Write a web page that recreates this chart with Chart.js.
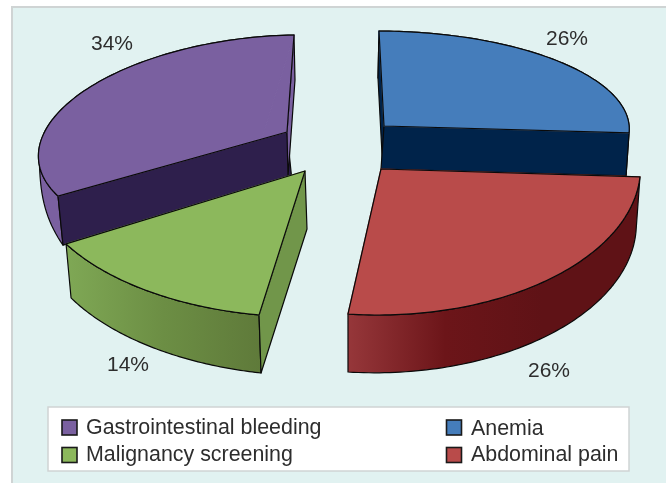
<!DOCTYPE html>
<html>
<head>
<meta charset="utf-8">
<style>
  html, body { margin: 0; padding: 0; background: #fff; }
  canvas { display: block; }
</style>
<script src="https://cdn.jsdelivr.net/npm/chart.js@4"></script>
</head>
<body>
<canvas id="chart" width="666" height="483"></canvas>
<script>
const categories = ["Anemia", "Abdominal pain", "Malignancy screening", "Gastrointestinal bleeding"];
const shares = [26, 26, 14, 34];
const topColors = ["#457dbb", "#b94b4a", "#8cb85c", "#7a60a0"];

// each exploded wedge has its own projection: the unit circle goes to
// centre + cos*xAxis + sin*yAxis, the tip of the wedge sits at centre + tip
const views = [
  { centre: [384, 126], xAxis: [245.2, 1], yAxis: [5, 95], tip: [0, 0], depthStart: [-1, 47], depthEnd: [-3, 43],
    walls: ["start", "end"], cutColor: "#00234a", cutColorStart: "#00234a", rim: ["#00234a", "#00234a"], label: [567, 39] },
  { centre: [381, 169], xAxis: [259.5, -1.2], yAxis: [-0.5, 146], tip: [0, 0], depthStart: [-4, 55], depthEnd: [0, 58],
    walls: [], rim: ["#5f1216", "#5f1216", "#6c1519", "#96373a"], label: [549, 371] },
  { centre: [305, 171], xAxis: [275.7, 6.2], yAxis: [-11.5, 145.9], tip: [0, 0], depthStart: [2, 58], depthEnd: [5, 54],
    walls: ["start"], cutColorStart: "#71964a", rim: ["#5f7a3a", "#6c8e44", "#7fa855"], label: [128, 365] },
  { centre: [262, 138], xAxis: [221.3, -3.4], yAxis: [-32, 103], tip: [25, -6], depthStart: [5, 49], depthEnd: [1, 45],
    walls: ["start", "end"], cutColorStart: "#2e1f4c", cutColor: "#7a60a0", rim: ["#7a60a0", "#7a60a0"], rimFade: 0.22, label: [112, 44] }
];
const drawOrder = [3, 2, 0, 1];

const legendItems = [
  { index: 3, box: [62, 420], text: [86, 434] },
  { index: 2, box: [62, 447.5], text: [86, 461] },
  { index: 0, box: [446.5, 420], text: [471, 435] },
  { index: 1, box: [446.5, 447.5], text: [471, 461] }
];

const textColor = "#2d2d2d";
const font = "Arial, 'Liberation Sans', sans-serif";

function rimPoint(view, angle) {
  return [
    view.centre[0] + Math.cos(angle) * view.xAxis[0] + Math.sin(angle) * view.yAxis[0],
    view.centre[1] + Math.cos(angle) * view.xAxis[1] + Math.sin(angle) * view.yAxis[1]
  ];
}

function polygon(ctx, pts) {
  ctx.beginPath();
  pts.forEach((p, i) => (i ? ctx.lineTo(p[0], p[1]) : ctx.moveTo(p[0], p[1])));
  ctx.closePath();
}

function paint(ctx, pts, fill) {
  polygon(ctx, pts);
  ctx.fillStyle = fill;
  ctx.fill();
  ctx.stroke();
}

function drawWedge(ctx, arc, view, color) {
  const a0 = arc.startAngle;
  const a1 = arc.endAngle;
  const steps = 80;
  const top = [];
  const low = [];
  for (let i = 0; i <= steps; i++) {
    const t = i / steps;
    const p = rimPoint(view, a0 + (a1 - a0) * t);
    // a back-facing rim (purple) tapers away instead of keeping full depth
    const taper = view.rimFade ? Math.sqrt(Math.max(0, 1 - t / view.rimFade)) : 1;
    top.push(p);
    low.push([
      p[0] + (view.depthStart[0] + (view.depthEnd[0] - view.depthStart[0]) * t) * taper,
      p[1] + (view.depthStart[1] + (view.depthEnd[1] - view.depthStart[1]) * t) * taper
    ]);
  }
  const apex = [view.centre[0] + view.tip[0], view.centre[1] + view.tip[1]];
  const first = top[0];
  const last = top[steps];
  const lastLow = [last[0] + view.depthEnd[0], last[1] + view.depthEnd[1]];

  ctx.save();
  ctx.lineWidth = 1.2;
  ctx.strokeStyle = "#0a0a0a";
  ctx.lineJoin = "round";

  // outer wall, the top face paints over its hidden back part
  const xs = top.concat(low).map((p) => p[0]);
  const grad = ctx.createLinearGradient(Math.max(...xs), 0, Math.min(...xs), 0);
  view.rim.forEach((c, i) => grad.addColorStop(i / (view.rim.length - 1), c));
  paint(ctx, top.concat(low.slice().reverse()), grad);

  // cut faces
  if (view.walls.includes("start")) {
    paint(ctx, [apex, first, low[0], [apex[0] + view.depthStart[0], apex[1] + view.depthStart[1]]], view.cutColorStart);
  }
  if (view.walls.includes("end")) {
    paint(ctx, [apex, last, lastLow, [apex[0] + view.depthEnd[0], apex[1] + view.depthEnd[1]]], view.cutColor);
  }

  // top face: the library's own arc, pushed through the wedge projection
  const r = arc.outerRadius;
  ctx.save();
  ctx.transform(view.xAxis[0] / r, view.xAxis[1] / r, view.yAxis[0] / r, view.yAxis[1] / r, view.centre[0], view.centre[1]);
  ctx.translate(-arc.x, -arc.y);
  arc.draw(ctx);
  ctx.restore();

  // fill between the ellipse centre and the real tip of the wedge
  polygon(ctx, [first, view.centre, last, apex]);
  ctx.fillStyle = color;
  ctx.fill();
  ctx.strokeStyle = color;
  ctx.stroke();

  ctx.strokeStyle = "#0a0a0a";
  polygon(ctx, [apex].concat(top));
  ctx.stroke();
  ctx.restore();
}

const pie3d = {
  id: "pie3d",
  beforeDraw(chart) {
    const ctx = chart.ctx;
    ctx.save();
    ctx.fillStyle = "#ffffff";
    ctx.fillRect(0, 0, 666, 483);
    ctx.fillStyle = "#e1f2f1";
    ctx.fillRect(12, 7, 654, 476);
    ctx.fillStyle = "#cfd4d4";
    ctx.fillRect(12, 6, 654, 2);
    ctx.fillRect(11, 6, 2, 477);
    ctx.restore();
  },
  beforeDatasetDraw(chart) {
    const ctx = chart.ctx;
    const arcs = chart.getDatasetMeta(0).data;
    drawOrder.forEach((i) => drawWedge(ctx, arcs[i], views[i], topColors[i]));
    return false;
  },
  afterDatasetsDraw(chart) {
    const ctx = chart.ctx;
    ctx.save();
    ctx.fillStyle = textColor;
    ctx.textAlign = "center";
    ctx.textBaseline = "middle";
    ctx.font = "21px " + font;
    shares.forEach((v, i) => ctx.fillText(v + "%", views[i].label[0], views[i].label[1]));

    // legend panel
    ctx.fillStyle = "#ffffff";
    ctx.strokeStyle = "#cfd4d4";
    ctx.lineWidth = 1.5;
    ctx.fillRect(48, 407, 581, 64);
    ctx.strokeRect(48, 407, 581, 64);
    ctx.textAlign = "left";
    ctx.textBaseline = "alphabetic";
    ctx.font = "21.4px " + font;
    legendItems.forEach((item) => {
      ctx.fillStyle = topColors[item.index];
      ctx.strokeStyle = "#1a1a1a";
      ctx.lineWidth = 1.6;
      ctx.fillRect(item.box[0], item.box[1], 15, 15);
      ctx.strokeRect(item.box[0], item.box[1], 15, 15);
      ctx.fillStyle = textColor;
      ctx.fillText(categories[item.index], item.text[0], item.text[1]);
    });
    ctx.restore();
  }
};

new Chart(document.getElementById("chart"), {
  type: "pie",
  data: {
    labels: categories,
    datasets: [{ data: shares, backgroundColor: topColors, borderWidth: 0 }]
  },
  options: {
    responsive: false,
    animation: false,
    radius: 100,
    plugins: { legend: { display: false }, tooltip: { enabled: false } }
  },
  plugins: [pie3d]
});
</script>
</body>
</html>
